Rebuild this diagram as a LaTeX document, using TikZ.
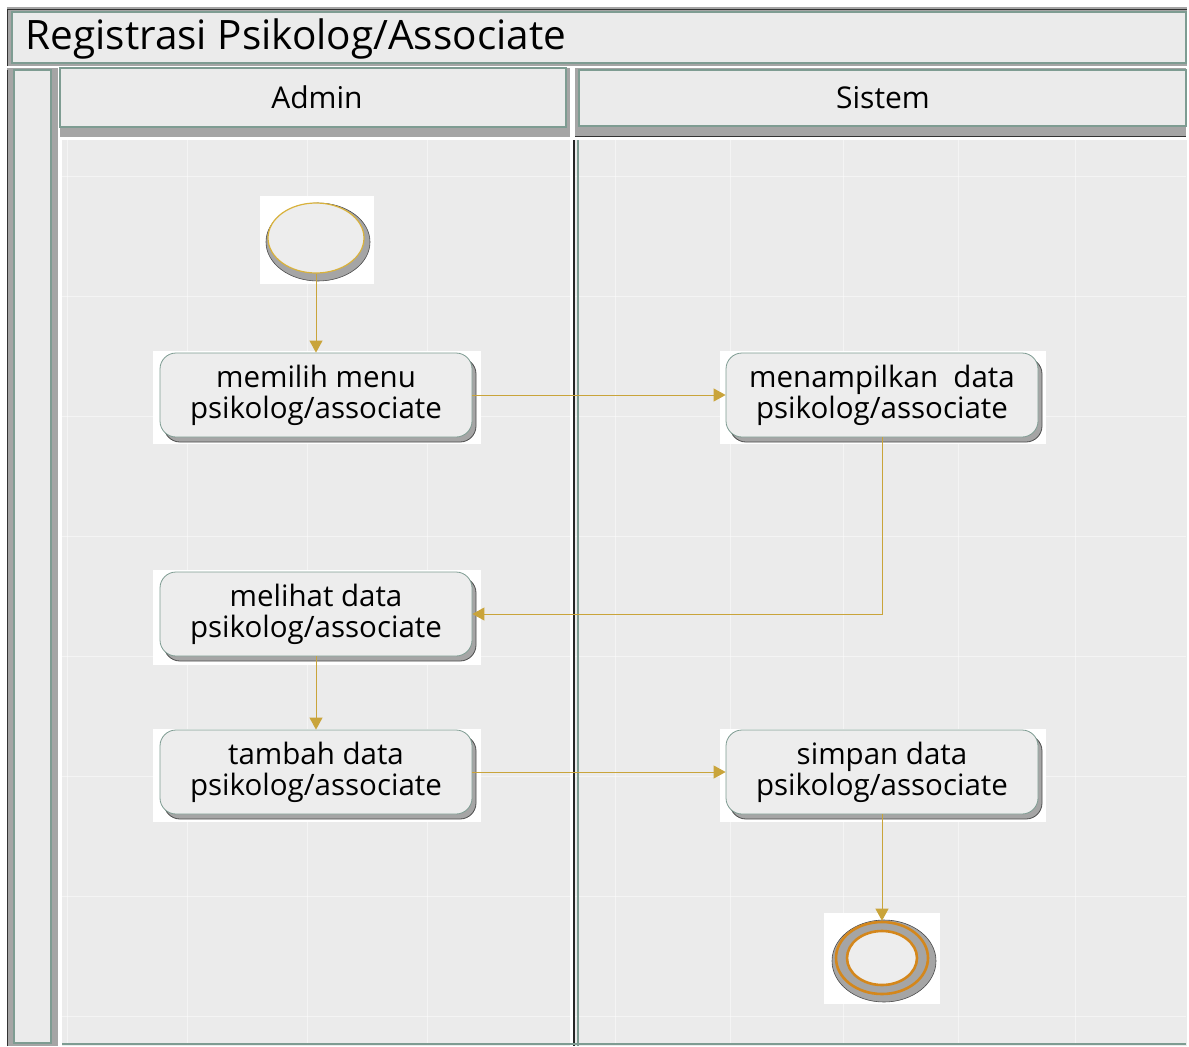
\documentclass[tikz,border=0pt]{standalone}
\usepackage{fontspec}
\setmainfont{Open Sans}
\usetikzlibrary{shadows,arrows.meta,shapes.geometric}
\definecolor{lanefill}{HTML}{EBEBEB}
\definecolor{laneline}{HTML}{7E9C92}
\definecolor{shgray}{HTML}{A5A5A5}
\definecolor{flow}{HTML}{C9A43A}
\definecolor{startring}{HTML}{D9B23C}
\definecolor{endring}{HTML}{D4871C}
\definecolor{actfill}{HTML}{EDEDED}
\begin{document}
\begin{tikzpicture}[x=1pt,y=-1pt,
  container/.style={fill=lanefill, draw=laneline, line width=1.6pt},
  action/.style={rectangle, rounded corners=16pt, fill=actfill, draw=laneline,
    line width=0.8pt, minimum width=312pt, minimum height=84pt, align=center,
    font=\fontsize{29.5}{31}\selectfont, inner sep=2pt,
    drop shadow={shadow xshift=4pt, shadow yshift=-5pt, fill=shgray, draw=black!70, opacity=1}},
  backing/.style={fill=white},
  flowline/.style={draw=flow, line width=0.9pt, -{Triangle[length=12pt,width=13pt]}},
  lanelabel/.style={font=\fontsize{30}{34}\selectfont}]
\useasboundingbox (0,0) rectangle (1189,1047);
\fill[white] (0,0) rectangle (1189,1047);

% pool title bar
\fill[shgray] (7,7) rectangle (1187,66);
\draw[black!80, line width=0.8pt] (7,66) -- (7,9) -- (1187,9);
\draw[container] (12,12) rectangle (1186,63);
\node[anchor=west, font=\fontsize{40.5}{44}\selectfont] (title) at (22,39) {Registrasi Psikolog/Associate};

% left strip of the pool
\fill[shgray] (7,68) rectangle (58,1046);
\draw[black!80, line width=0.8pt] (7,1046) -- (7,70);
\draw[container] (14,70) rectangle (51,1043);

% lane headers
\fill[shgray] (60,68) rectangle (570,137);
\draw[container] (60,68) rectangle (566,127);
\node[lanelabel] (admin) at (317,97) {Admin};
\fill[shgray] (575,68) rectangle (1186,136);
\draw[black!80, line width=0.6pt] (575,136) -- (1186,136);
\draw[container] (579,70) rectangle (1186,126);
\node[lanelabel] (sistem) at (883,98) {Sistem};

% lane bodies with a faint grid
\fill[lanefill] (62,140) rectangle (570,1046);
\fill[lanefill] (574,140) rectangle (1187,1046);
\foreach \gx in {67,187,307,427,615,730,843,958,1075}
  \draw[white, line width=0.8pt, opacity=0.45] (\gx,140) -- (\gx,1044);
\foreach \gy in {176,296,416,536,656,776,896,1016}
  \draw[white, line width=0.8pt, opacity=0.45] (62,\gy) -- (1186,\gy);
\draw[black!85, line width=1.2pt] (574,140) -- (574,1046);
\draw[laneline, line width=2.4pt] (578,140) -- (578,1046);
\draw[laneline, line width=1.6pt] (62,1044) -- (1186,1044);

% white backing behind each symbol
\fill[backing] (260,196) rectangle (374,284);
\fill[backing] (153,351) rectangle (481,444);
\fill[backing] (720,351) rectangle (1046,444);
\fill[backing] (153,570) rectangle (481,665);
\fill[backing] (153,729) rectangle (481,822);
\fill[backing] (720,729) rectangle (1046,822);
\fill[backing] (824,913) rectangle (940,1004);

% initial node
\fill[shgray, draw=black!70, line width=0.6pt] (318,242) ellipse (52pt and 39pt);
\node[ellipse, minimum width=96pt, minimum height=70pt, fill=actfill,
  draw=startring, line width=1.2pt] (start) at (316,238) {};

% actions
\node[action] (pilih) at (316,395) {memilih menu\\psikolog/associate};
\node[action] (tampil) at (882,395) {menampilkan\ \ data\\psikolog/associate};
\node[action] (lihat) at (316,614) {melihat data\\psikolog/associate};
\node[action] (tambah) at (316,772) {tambah data\\psikolog/associate};
\node[action] (simpan) at (882,772) {simpan data\\psikolog/associate};

% final node
\fill[shgray, draw=black!70, line width=0.6pt] (884,961) ellipse (52pt and 41pt);
\node[ellipse, minimum width=92pt, minimum height=72pt, fill=shgray,
  draw=endring, line width=2.6pt] (final) at (882,958) {};
\draw[endring, fill=actfill, line width=2.6pt] (final.center) ellipse (35pt and 27pt);

% control flow
\draw[flowline] (start) -- (pilih);
\draw[flowline] (pilih) -- (tampil);
\draw[flowline] (tampil.south) |- (lihat.east);
\draw[flowline] (lihat) -- (tambah);
\draw[flowline] (tambah) -- (simpan);
\draw[flowline] (simpan) -- (final);
\end{tikzpicture}
\end{document}
